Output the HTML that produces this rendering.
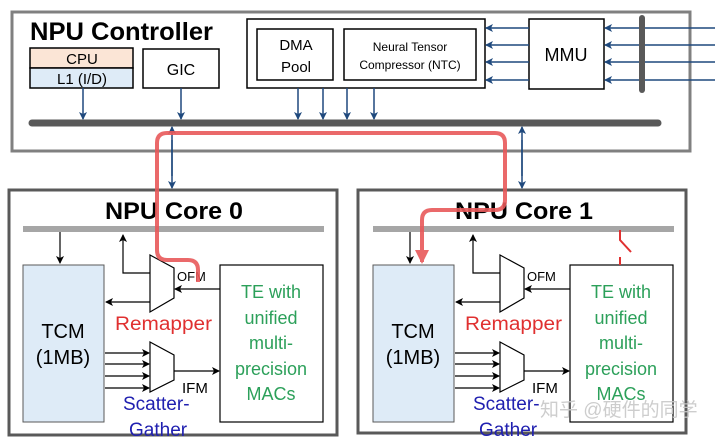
<!DOCTYPE html>
<html><head><meta charset="utf-8"><style>
html,body{margin:0;padding:0;background:#fff;}
svg{display:block;font-family:"Liberation Sans","Noto Sans CJK SC",sans-serif;}
</style></head><body>
<svg width="720" height="441" viewBox="0 0 720 441" xmlns="http://www.w3.org/2000/svg">
<defs>
<marker id="ab" markerWidth="8" markerHeight="8" refX="7" refY="4" orient="auto" markerUnits="userSpaceOnUse"><path d="M0,0 L8,4 L0,8 L2,4 z" fill="#1f497d"/></marker>
<marker id="ak" markerWidth="8" markerHeight="8" refX="7" refY="4" orient="auto" markerUnits="userSpaceOnUse"><path d="M0,0 L8,4 L0,8 L2,4 z" fill="#000"/></marker>
<marker id="ar" markerWidth="14" markerHeight="14" refX="12" refY="7" orient="auto" markerUnits="userSpaceOnUse"><path d="M0,0 L14,7 L0,14 z" fill="#e8595a"/></marker>
</defs>
<!-- Controller -->
<rect x="12" y="12" width="678" height="139" fill="#fff" stroke="#808080" stroke-width="3"/>
<text x="30" y="40" font-size="25" font-weight="bold" textLength="183" lengthAdjust="spacingAndGlyphs">NPU Controller</text>
<rect x="30" y="48" width="103" height="20" fill="#fbe5d6" stroke="#000" stroke-width="1.5"/>
<rect x="30" y="68" width="103" height="20" fill="#deebf7" stroke="#000" stroke-width="1.5"/>
<text x="82" y="64" font-size="15" text-anchor="middle">CPU</text>
<text x="82" y="84" font-size="15" text-anchor="middle">L1 (I/D)</text>
<rect x="143" y="49" width="76" height="39" fill="#fff" stroke="#000" stroke-width="1.5"/>
<text x="181" y="75" font-size="16" text-anchor="middle">GIC</text>
<rect x="247" y="19" width="238" height="69" fill="#fff" stroke="#000" stroke-width="1.5"/>
<rect x="257" y="29" width="76" height="51" fill="#fff" stroke="#000" stroke-width="1.5"/>
<text x="296" y="50" font-size="15" text-anchor="middle">DMA</text>
<text x="296" y="72" font-size="15" text-anchor="middle">Pool</text>
<rect x="344" y="29" width="132" height="51" fill="#fff" stroke="#000" stroke-width="1.5"/>
<text x="410" y="51" font-size="12" text-anchor="middle">Neural Tensor</text>
<text x="410" y="69" font-size="12" text-anchor="middle">Compressor (NTC)</text>
<rect x="529" y="19" width="75" height="70" fill="#fff" stroke="#000" stroke-width="1.5"/>
<text x="566" y="61" font-size="18" text-anchor="middle">MMU</text>
<g stroke="#1f497d" stroke-width="1.5" fill="none">
<line x1="529" y1="28" x2="486" y2="28" marker-end="url(#ab)"/>
<line x1="529" y1="45" x2="486" y2="45" marker-end="url(#ab)"/>
<line x1="529" y1="62" x2="486" y2="62" marker-end="url(#ab)"/>
<line x1="529" y1="80" x2="486" y2="80" marker-end="url(#ab)"/>
<line x1="715" y1="28" x2="605" y2="28" marker-end="url(#ab)"/>
<line x1="715" y1="45" x2="605" y2="45" marker-end="url(#ab)"/>
<line x1="715" y1="62" x2="605" y2="62" marker-end="url(#ab)"/>
<line x1="715" y1="80" x2="605" y2="80" marker-end="url(#ab)"/>
<line x1="83" y1="88" x2="83" y2="119" marker-end="url(#ab)"/>
<line x1="181" y1="88" x2="181" y2="119" marker-end="url(#ab)"/>
<line x1="298" y1="88" x2="298" y2="119" marker-end="url(#ab)"/>
<line x1="323" y1="88" x2="323" y2="119" marker-end="url(#ab)"/>
<line x1="347" y1="88" x2="347" y2="119" marker-end="url(#ab)"/>
<line x1="374" y1="88" x2="374" y2="119" marker-end="url(#ab)"/>
</g>
<line x1="642" y1="18" x2="642" y2="90" stroke="#595959" stroke-width="6" stroke-linecap="round"/>
<line x1="32" y1="123" x2="658" y2="123" stroke="#595959" stroke-width="7" stroke-linecap="round"/>
<!-- cores -->
<rect x="9" y="190" width="328" height="245" fill="#fff" stroke="#595959" stroke-width="3"/>
<rect x="358" y="190" width="328" height="243" fill="#fff" stroke="#595959" stroke-width="3"/>
<g stroke="#1f497d" stroke-width="1.5">
<line x1="172" y1="140" x2="172" y2="188" marker-end="url(#ab)"/>
<line x1="172" y1="176" x2="172" y2="127" marker-end="url(#ab)"/>
<line x1="522" y1="140" x2="522" y2="188" marker-end="url(#ab)"/>
<line x1="522" y1="176" x2="522" y2="127" marker-end="url(#ab)"/>
</g>
<text x="105" y="219" font-size="24" font-weight="bold" textLength="138" lengthAdjust="spacingAndGlyphs">NPU Core 0</text>
<text x="455" y="219" font-size="24" font-weight="bold" textLength="138" lengthAdjust="spacingAndGlyphs">NPU Core 1</text>
<g id="core">
<line x1="23" y1="229" x2="324" y2="229" stroke="#a6a6a6" stroke-width="6"/>
<rect x="23" y="265" width="81" height="157" fill="#deebf7" stroke="#595959" stroke-width="1"/>
<text x="63" y="338" font-size="20" text-anchor="middle">TCM</text>
<text x="63" y="364" font-size="20" text-anchor="middle">(1MB)</text>
<rect x="220" y="265" width="103" height="157" fill="#fff" stroke="#000" stroke-width="1.2"/>
<g fill="#2ca05a" font-size="18" text-anchor="middle">
<text x="271" y="298">TE with</text><text x="271" y="324">unified</text><text x="271" y="349">multi-</text><text x="271" y="375">precision</text><text x="271" y="400">MACs</text></g>
<g stroke="#000" stroke-width="1.2" fill="none">
<line x1="60" y1="232" x2="60" y2="263" marker-end="url(#ak)"/>
<polyline points="150,273 123,273 123,235" marker-end="url(#ak)"/>
<polygon points="150,255 174,268 174,298 150,312" fill="#fff"/>
<line x1="220" y1="289" x2="175" y2="289" marker-end="url(#ak)"/>
<line x1="150" y1="302" x2="106" y2="302" marker-end="url(#ak)"/>
<polygon points="150,342 174,355 174,380 150,392" fill="#fff"/>
<line x1="105" y1="353" x2="149" y2="353" marker-end="url(#ak)"/>
<line x1="105" y1="364" x2="149" y2="364" marker-end="url(#ak)"/>
<line x1="105" y1="376" x2="149" y2="376" marker-end="url(#ak)"/>
<line x1="105" y1="388" x2="149" y2="388" marker-end="url(#ak)"/>
<line x1="174" y1="371" x2="219" y2="371" marker-end="url(#ak)"/>
</g>
<text x="177" y="281" font-size="13">OFM</text>
<text x="182" y="393" font-size="15">IFM</text>
<text x="115" y="330" font-size="19" fill="#e03030" textLength="97" lengthAdjust="spacingAndGlyphs">Remapper</text>
<text x="123" y="410" font-size="19" fill="#2020b0">Scatter-</text>
<text x="129" y="436" font-size="19" fill="#2020b0">Gather</text>
</g>
<use href="#core" transform="translate(350,0)"/>
<!-- red slash -->
<polyline points="620,230 620,240 631,252" stroke="#e03030" stroke-width="2" fill="none"/>
<line x1="620" y1="257" x2="620" y2="265" stroke="#e03030" stroke-width="2"/>
<!-- red path -->
<path d="M198,282 L198,270 Q198,260 188,260 L167,260 Q157,260 157,250 L157,143 Q157,133 167,133 L495,133 Q505,133 505,143 L505,200 Q505,210 495,210 L432,210 Q422,210 422,220 L422,262" stroke="#e8595a" stroke-width="4" fill="none" opacity="0.9" marker-end="url(#ar)"/>
<text x="540" y="416" font-size="19" fill="#c8c8c8" opacity="0.9">知乎 @硬件的同学</text>
</svg>
</body></html>
